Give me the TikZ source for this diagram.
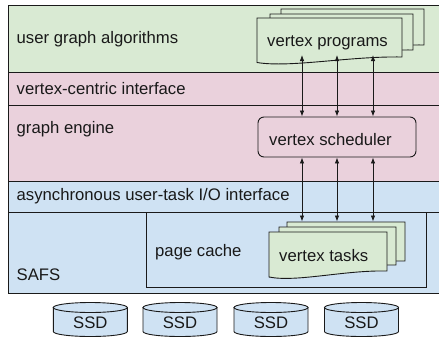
\documentclass[tikz,border=0pt]{standalone}
\usepackage{fontspec}
\setmainfont{Liberation Sans}
\usetikzlibrary{arrows.meta}
\definecolor{lgreen}{HTML}{D9EAD3}
\definecolor{lpink}{HTML}{EAD1DC}
\definecolor{lblue}{HTML}{CFE2F3}
\definecolor{edge}{HTML}{1A1A1A}
\newcommand{\docshape}[6][]{%
  \path[docfill,#1] (#2,#3) -- (#4,#3) -- (#4,#6)
    .. controls ({#4-0.36*(#4-#2)},{#6-1}) and ({#2+0.23*(#4-#2)},{#5+5.5}) .. (#2,#5) -- cycle;}
\newcommand{\ssdcyl}[2]{%
  \path[ssdfill] ({#1-37},307.5) -- ({#1-37},331.5)
    .. controls ({#1-37},334.3) and ({#1-20.4},336.5) .. (#1,336.5)
    .. controls ({#1+20.4},336.5) and ({#1+37},334.3) .. ({#1+37},331.5)
    -- ({#1+37},307.5) -- cycle;
  \path[ssdfill] (#1,307.5) ellipse [x radius=37pt, y radius=5pt];
  \node[lbl, anchor=base] (#2) at (#1,328) {SSD};}
\begin{document}
\begin{tikzpicture}[x=1pt,y=-1pt,
  layer/.style={draw=edge, line width=0.9pt},
  docfill/.style={draw=edge, line width=0.9pt, fill=lgreen},
  ssdfill/.style={draw=edge, line width=0.9pt, fill=lblue},
  lbl/.style={inner sep=0pt, font=\fontsize{16.7}{19}\selectfont, text=black!90},
  conn/.style={draw=edge, line width=0.8pt, {Latex[length=6pt,width=4.5pt]}-{Latex[length=6pt,width=4.5pt]}},
  schedbox/.style={draw=edge, line width=0.9pt, fill=lpink, rounded corners=6pt, minimum width=158pt, minimum height=40pt, inner sep=0pt}
]
\useasboundingbox (0,0) rectangle (439,338);
% layers
\path[layer, fill=lgreen] (8,5.7) rectangle (442,72.3);
\path[layer, fill=lpink] (8,72.3) rectangle (442,105);
\path[layer, fill=lpink] (8,105) rectangle (442,181.7);
\path[layer, fill=lblue] (8,181.7) rectangle (442,212.5);
\path[layer, fill=lblue] (8,212.5) rectangle (442,293.5);
\path[layer, fill=lblue] (146,212.5) rectangle (426,287);
% layer labels
\node[lbl, anchor=base west] (ua) at (16.5,43.5) {user graph algorithms};
\node[lbl, anchor=base west] (vci) at (16.5,94) {vertex-centric interface};
\node[lbl, anchor=base west] (ge) at (16.5,133) {graph engine};
\node[lbl, anchor=base west] (aio) at (16.5,200.7) {asynchronous user-task I/O interface};
\node[lbl, anchor=base west] (safs) at (16.5,280.7) {SAFS};
\node[lbl, anchor=base west] (pc) at (155,256) {page cache};
% vertex programs stack
\docshape{281}{9}{424}{51}{45}
\docshape{270}{14}{413}{56}{50}
\docshape{257}{18}{402}{62.5}{57}
\node[lbl, anchor=base west] (vp) at (267,46.7) {vertex programs};
% vertex scheduler
\node[schedbox] (sched) at (337,137) {};
\node[lbl, anchor=base west] (vs) at (269,145) {vertex scheduler};
% vertex tasks stack
\docshape{287}{222}{405}{267}{261}
\docshape{279}{227}{396}{271}{265}
\docshape{269}{232}{387}{277}{271}
\node[lbl, anchor=base west] (vt) at (279,261) {vertex tasks};
% arrow end coordinates
\coordinate (pt1) at (302,55);
\coordinate (pt2) at (337,55);
\coordinate (pt3) at (373,55);
\coordinate (tt1) at (302,221.5);
\coordinate (tt2) at (337,221.5);
\coordinate (tt3) at (373,221.5);
\path[conn] (pt1) -- (sched.north -| pt1);
\path[conn] (pt2) -- (sched.north -| pt2);
\path[conn] (pt3) -- (sched.north -| pt3);
\path[conn] (sched.south -| tt1) -- (tt1);
\path[conn] (sched.south -| tt2) -- (tt2);
\path[conn] (sched.south -| tt3) -- (tt3);
% SSDs
\ssdcyl{90.3}{ssd1}
\ssdcyl{180}{ssd2}
\ssdcyl{271}{ssd3}
\ssdcyl{361.5}{ssd4}
\end{tikzpicture}
\end{document}
